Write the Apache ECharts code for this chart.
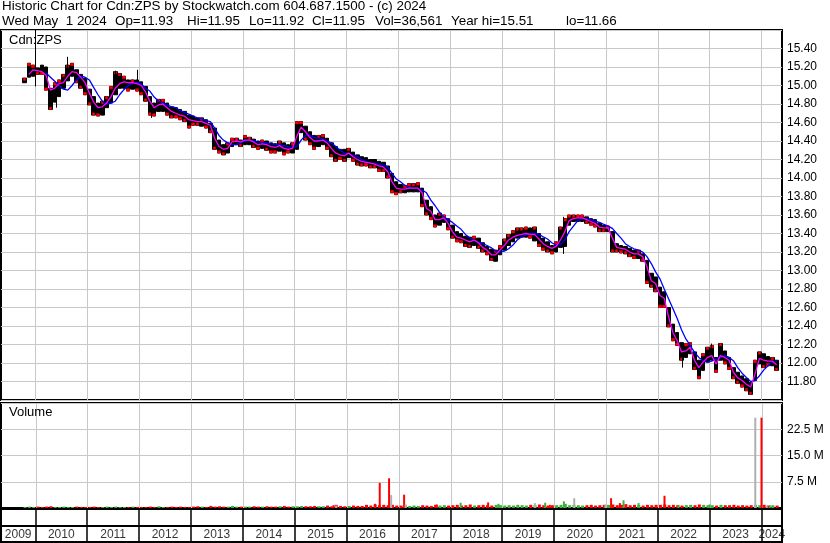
<!DOCTYPE html>
<html><head><meta charset="utf-8">
<script src="https://cdn.jsdelivr.net/npm/echarts@6/dist/echarts.min.js"></script>
<style>html,body{margin:0;padding:0;background:#fff}#c{width:830px;height:543px}</style>
</head><body><div id="c"></div>
<script>
// Monthly samples, first = Oct 2009, last = Apr 2024
const startYear = 2009, startMonth = 10;
const bandHi = [
15.08,15.24,15.22,
15.19,15.22,15.20,14.97,15.03,15.06,15.12,15.22,15.24,15.17,15.12,15.08,
14.96,14.88,14.81,14.83,14.88,14.99,15.15,15.13,15.10,15.06,15.06,15.06,
15.04,14.99,14.88,14.81,14.85,14.85,14.81,14.77,14.76,14.74,14.72,14.68,
14.67,14.65,14.65,14.63,14.59,14.54,14.41,14.36,14.38,14.43,14.43,14.41,
14.46,14.44,14.42,14.40,14.41,14.40,14.38,14.37,14.40,14.38,14.36,14.38,
14.61,14.61,14.56,14.50,14.46,14.46,14.47,14.43,14.38,14.34,14.31,14.31,
14.32,14.28,14.25,14.23,14.22,14.20,14.20,14.18,14.17,14.13,14.05,13.96,
13.93,13.92,13.94,13.94,13.95,13.89,13.76,13.69,13.60,13.62,13.60,13.56,
13.49,13.42,13.40,13.37,13.36,13.37,13.35,13.30,13.26,13.23,13.22,13.27,
13.34,13.39,13.43,13.46,13.46,13.47,13.46,13.47,13.40,13.35,13.31,13.27,
13.31,13.47,13.56,13.60,13.60,13.60,13.60,13.58,13.56,13.55,13.51,13.49,
13.48,13.42,13.29,13.27,13.26,13.24,13.22,13.22,13.18,13.11,12.97,12.93,
12.82,12.77,12.60,12.42,12.33,12.22,12.21,12.22,12.12,12.03,12.10,12.17,
12.19,12.06,12.21,12.13,12.06,11.95,11.90,11.86,11.83,11.79,12.03,12.12,
12.10,12.07,12.06,12.03];
const bandLo = [
15.03,15.09,15.10,
15.12,15.12,14.95,14.74,14.82,14.88,14.97,15.05,15.10,15.03,14.97,14.90,
14.79,14.68,14.67,14.68,14.76,14.81,14.90,14.97,14.97,14.94,14.96,14.94,
14.90,14.83,14.68,14.67,14.72,14.72,14.68,14.65,14.65,14.63,14.61,14.54,
14.57,14.57,14.56,14.54,14.49,14.31,14.27,14.25,14.27,14.34,14.36,14.34,
14.36,14.36,14.33,14.31,14.32,14.30,14.27,14.27,14.29,14.25,14.27,14.27,
14.31,14.49,14.41,14.36,14.31,14.34,14.36,14.31,14.23,14.18,14.20,14.18,
14.22,14.18,14.14,14.13,14.13,14.11,14.11,14.07,14.07,14.00,13.84,13.82,
13.84,13.84,13.85,13.85,13.85,13.69,13.60,13.55,13.47,13.49,13.52,13.44,
13.35,13.31,13.30,13.26,13.25,13.27,13.24,13.20,13.17,13.11,13.10,13.17,
13.22,13.27,13.31,13.35,13.36,13.36,13.35,13.32,13.26,13.22,13.20,13.18,
13.20,13.25,13.26,13.49,13.53,13.53,13.53,13.51,13.49,13.47,13.42,13.42,
13.42,13.20,13.20,13.19,13.18,13.15,13.13,13.13,13.10,12.86,12.82,12.77,
12.60,12.60,12.39,12.24,12.19,12.03,12.06,12.10,11.93,11.83,11.92,12.01,
12.03,11.90,12.03,11.99,11.93,11.83,11.78,11.74,11.70,11.66,11.81,11.99,
11.95,11.97,11.97,11.92];
// magenta moving average
const maShort = [
null,15.12,15.17,
15.16,15.15,15.11,14.95,14.97,15.02,15.03,15.10,15.15,15.14,15.09,15.03,
14.92,14.82,14.76,14.77,14.81,14.88,14.97,15.02,15.04,15.03,15.03,15.02,
15.00,14.93,14.83,14.76,14.79,14.80,14.76,14.72,14.70,14.68,14.67,14.63,
14.62,14.61,14.61,14.59,14.57,14.43,14.34,14.31,14.32,14.39,14.40,14.39,
14.41,14.41,14.39,14.36,14.37,14.36,14.34,14.33,14.35,14.32,14.31,14.32,
14.45,14.55,14.50,14.44,14.40,14.40,14.41,14.38,14.32,14.27,14.25,14.24,
14.27,14.23,14.20,14.18,14.17,14.16,14.15,14.13,14.12,14.07,13.96,13.89,
13.88,13.88,13.89,13.89,13.89,13.84,13.67,13.64,13.55,13.55,13.57,13.51,
13.42,13.36,13.35,13.33,13.31,13.33,13.30,13.25,13.22,13.17,13.17,13.22,
13.27,13.33,13.36,13.38,13.39,13.40,13.39,13.39,13.34,13.29,13.26,13.24,
13.26,13.33,13.42,13.54,13.56,13.57,13.57,13.55,13.53,13.51,13.47,13.46,
13.46,13.35,13.25,13.24,13.23,13.20,13.18,13.18,13.15,13.04,12.89,12.86,
12.73,12.70,12.50,12.33,12.24,12.12,12.13,12.17,12.03,11.95,12.01,12.06,
12.08,11.99,12.08,12.06,12.03,11.90,11.84,11.81,11.77,11.74,11.88,12.05,
12.03,12.02,12.02,11.98];
// blue moving average
const maLong = [
null,null,null,
null,null,15.135,15.09,15.045,15.00,14.96,14.95,15.00,15.06,15.10,15.09,
15.06,14.98,14.90,14.83,14.80,14.81,14.83,14.90,14.955,15.00,15.02,15.03,
15.02,14.97,14.94,14.875,14.83,14.81,14.79,14.77,14.76,14.73,14.71,14.69,
14.67,14.65,14.64,14.62,14.61,14.54,14.46,14.41,14.38,14.36,14.36,14.38,
14.40,14.41,14.40,14.39,14.385,14.38,14.37,14.365,14.36,14.35,14.34,14.33,
14.34,14.41,14.46,14.46,14.44,14.43,14.42,14.40,14.38,14.34,14.30,14.27,
14.26,14.245,14.23,14.20,14.18,14.16,14.155,14.15,14.145,14.12,14.05,13.99,
13.96,13.92,13.90,13.89,13.885,13.87,13.84,13.76,13.70,13.63,13.58,13.55,
13.52,13.48,13.445,13.39,13.354,13.325,13.307,13.29,13.27,13.245,13.21,13.198,
13.21,13.235,13.275,13.33,13.365,13.383,13.40,13.40,13.39,13.365,13.34,13.30,
13.275,13.28,13.33,13.42,13.48,13.54,13.56,13.56,13.55,13.535,13.52,13.50,
13.48,13.455,13.40,13.35,13.29,13.26,13.235,13.22,13.20,13.15,13.075,12.985,
12.91,12.80,12.695,12.59,12.48,12.36,12.26,12.19,12.115,12.06,12.025,12.01,
12.02,12.043,12.06,12.08,12.06,12.025,11.95,11.89,11.844,11.80,11.81,11.86,
11.923,11.97,12.01,12.015];
// single-day high/low spikes: [decimal year, low, high]
const wicks = [
[2010.01,14.99,15.60],[2010.42,14.76,14.95],[2010.62,15.15,15.31],[2011.55,15.00,15.16],
[2011.97,15.00,15.17],[2012.25,14.65,14.75],[2020.19,13.18,13.58],[2021.18,13.20,13.42],
[2022.49,11.95,12.15],[2023.04,12.05,12.21]];
// monthly baseline volume (millions)
const volBase = [
0.3,0.4,0.3,
0.4,0.3,0.4,0.5,0.3,0.3,0.4,0.3,0.3,0.4,0.3,0.3,
0.3,0.4,0.3,0.3,0.4,0.3,0.4,0.3,0.3,0.3,0.4,0.3,
0.3,0.3,0.4,0.3,0.5,0.3,0.3,0.4,0.3,0.4,0.3,0.3,
0.4,0.5,0.4,0.3,0.6,0.4,0.5,0.4,0.4,0.6,0.4,0.4,
0.4,0.4,0.5,0.4,0.4,0.5,0.4,0.4,0.5,0.6,0.4,0.5,
0.5,0.6,0.5,0.5,0.6,0.5,0.5,0.7,0.5,0.9,0.6,0.5,
0.6,0.7,0.6,0.6,0.9,0.7,1.0,0.8,0.9,0.8,0.9,0.7,
0.7,0.8,0.6,0.7,0.6,0.8,0.7,0.6,0.9,0.7,0.8,0.7,
0.8,0.9,0.7,0.8,1.0,0.7,0.8,0.9,0.8,0.7,0.9,0.8,
0.7,0.8,0.7,0.9,0.8,0.7,0.9,0.8,1.0,0.8,0.7,0.8,
0.8,0.9,1.2,0.8,0.9,0.8,0.7,0.8,0.9,0.7,0.8,0.9,
0.9,1.0,0.8,0.9,1.1,0.8,0.9,0.8,0.7,0.9,0.8,0.9,
0.9,1.0,0.8,0.9,0.8,0.7,0.8,0.9,0.8,1.0,0.9,0.8,
0.8,0.7,0.9,0.8,0.8,0.9,0.7,0.8,0.7,0.8,0.9,0.8,
0.9,0.7,0.8,0.7];
// single-day volume spikes: [decimal year, millions, r=down g=up n=unchanged]
const volSpikes = [
[2015.75,0.8,'r'],[2015.80,0.7,'n'],[2016.55,1.2,'r'],[2016.64,7.2,'r'],[2016.82,8.5,'r'],
[2016.86,3.7,'n'],[2017.11,3.8,'r'],[2017.14,1.0,'n'],[2017.74,1.0,'r'],[2018.20,1.5,'g'],
[2018.73,1.6,'r'],[2018.93,1.2,'g'],[2019.63,1.4,'n'],[2019.83,1.5,'g'],[2019.92,0.9,'r'],
[2020.19,1.9,'g'],[2020.39,2.8,'n'],[2020.99,1.0,'n'],[2021.10,2.8,'r'],[2021.27,1.4,'r'],
[2021.34,2.2,'g'],[2021.63,1.4,'g'],[2022.13,3.5,'r'],[2022.40,0.9,'g'],[2023.00,1.0,'g'],
[2023.88,25.8,'n'],[2024.00,25.8,'r'],[2024.10,0.7,'n'],[2024.16,0.8,'g']];
const yearLines = [2010,2011,2012,2013,2014,2015,2016,2017,2018,2019,2020,2021,2022,2023,2024];
const yearLabels = ['2009','2010','2011','2012','2013','2014','2015','2016','2017','2018','2019','2020','2021','2022','2023','2024'];
const priceTicks = {min:11.6, max:15.6, step:0.2};
const volTicks = {min:0, max:30, step:7.5};
const header1 = 'Historic Chart for Cdn:ZPS by Stockwatch.com 604.687.1500 - (c) 2024';
const header2Fields = ['Wed May  1 2024', 'Op=11.93', 'Hi=11.95', 'Lo=11.92', 'Cl=11.95', 'Vol=36,561', 'Year hi=15.51', 'lo=11.66'];
const header2Left = [2, 115, 187, 249, 312, 375, 451, 566];

const xMin = 2009.3387, xMax = 2024.3952;
const FONT = '"Liberation Sans", Arial, sans-serif';
const RED = '#ff0000', GREEN = '#3fae3f', GRAY = '#b0b0b0';
const CAP = 0.025; // height of the red end-of-range tick, in price units

const tx = bandHi.map((_, i) => { const m = startMonth - 1 + i; return startYear + Math.floor(m / 12) + ((m % 12) + 0.5) / 12; });
const up = maShort.map((v, i) => (i === 0 || v == null || maShort[i - 1] == null) ? true : v >= maShort[i - 1]);
const candles = tx.map((x, i) => [x, bandLo[i], bandHi[i], bandLo[i], bandHi[i]]);
const caps = tx.map((x, i) => up[i]
  ? [x, bandHi[i] - CAP, bandHi[i], bandHi[i] - CAP, bandHi[i]]
  : [x, bandLo[i], bandLo[i] + CAP, bandLo[i], bandLo[i] + CAP]);
const wickData = wicks.map(w => [w[0], w[1], w[2], w[1], w[2]]);
const shortLine = tx.map((x, i) => [x, maShort[i]]).filter(p => p[1] != null);
const longLine = tx.map((x, i) => [x, maLong[i]]).filter(p => p[1] != null);
const volData = tx.map((x, i) => ({ value: [x, volBase[i]], itemStyle: { color: up[i] ? GREEN : RED } }));
const spikeData = volSpikes.map(s => ({ value: [s[0], s[1]], itemStyle: { color: s[2] === 'r' ? RED : (s[2] === 'g' ? GREEN : GRAY) } }));
const labelData = yearLabels.map(y => {
  const a = Math.max(+y, xMin), b = Math.min(+y + 1, xMax);
  return { name: y, value: [(a + b) / 2, 0.5] };
});
const grayLines = { silent: true, symbol: 'none', z: 1, animation: false, label: { show: false },
  lineStyle: { color: '#c8c8c8', width: 1, type: 'solid' }, emphasis: { disabled: true },
  data: yearLines.map(y => ({ xAxis: y })) };

const chart = echarts.init(document.getElementById('c'), null, { renderer: 'canvas', width: 830, height: 543 });
const xBase = { type: 'value', min: xMin, max: xMax, show: false };
const txt = (text, left, top, size) => ({ text, left, top, padding: 0,
  textStyle: { fontSize: size, fontWeight: 'normal', color: '#000', fontFamily: FONT } });
const titles = [txt(header1, 2, 0, 13.4)]
  .concat(header2Fields.map((f, i) => txt(f, header2Left[i], 15, 13.4)))
  .concat([txt('Cdn:ZPS', 9, 34, 13), txt('Volume', 9, 406, 13)]);
chart.setOption({
  animation: false,
  backgroundColor: '#fff',
  title: titles,
  grid: [
    { left: 1, right: 48, top: 30, height: 370, show: true, borderColor: '#000', borderWidth: 2 },
    { left: 1, right: 48, top: 403, height: 105, show: true, borderColor: '#000', borderWidth: 2 },
    { left: 1, right: 48, top: 509, height: 33, show: true, borderColor: '#000', borderWidth: 2 }
  ],
  xAxis: [Object.assign({ gridIndex: 0 }, xBase), Object.assign({ gridIndex: 1 }, xBase), Object.assign({ gridIndex: 2 }, xBase)],
  yAxis: [
    { type: 'value', gridIndex: 0, position: 'right', min: priceTicks.min, max: priceTicks.max, interval: priceTicks.step,
      axisLine: { show: false }, axisTick: { show: false },
      axisLabel: { showMinLabel: false, showMaxLabel: false, formatter: v => v.toFixed(2), color: '#000', fontSize: 12, fontFamily: FONT, margin: 5 },
      splitLine: { lineStyle: { color: '#c8c8c8', width: 1 } } },
    { type: 'value', gridIndex: 1, position: 'right', min: volTicks.min, max: volTicks.max, interval: volTicks.step,
      axisLine: { show: false }, axisTick: { show: false },
      axisLabel: { showMinLabel: false, showMaxLabel: false, formatter: v => v.toFixed(1) + ' M', color: '#000', fontSize: 12, fontFamily: FONT, margin: 5 },
      splitLine: { lineStyle: { color: '#c8c8c8', width: 1 } } },
    { type: 'value', gridIndex: 2, min: 0, max: 2, interval: 1,
      axisLine: { show: false }, axisTick: { show: false }, axisLabel: { show: false },
      splitLine: { lineStyle: { color: '#000', width: 2 } } }
  ],
  series: [
    { type: 'candlestick', xAxisIndex: 0, yAxisIndex: 0, data: candles, barWidth: 4, silent: true,
      itemStyle: { color: '#000', color0: '#000', borderColor: '#000', borderColor0: '#000', borderWidth: 1 },
      markLine: grayLines },
    { type: 'candlestick', xAxisIndex: 0, yAxisIndex: 0, data: caps, barWidth: 3, silent: true,
      itemStyle: { color: RED, color0: RED, borderColor: RED, borderColor0: RED, borderWidth: 0.5 } },
    { type: 'candlestick', xAxisIndex: 0, yAxisIndex: 0, data: wickData, barWidth: 1, silent: true,
      itemStyle: { color: '#000', color0: '#000', borderColor: '#000', borderColor0: '#000', borderWidth: 1 } },
    { type: 'line', xAxisIndex: 0, yAxisIndex: 0, data: longLine, symbol: 'none', silent: true,
      lineStyle: { color: '#0000ff', width: 1.3 } },
    { type: 'line', xAxisIndex: 0, yAxisIndex: 0, data: shortLine, symbol: 'none', silent: true,
      lineStyle: { color: '#ff00ff', width: 1.3 } },
    { type: 'bar', xAxisIndex: 1, yAxisIndex: 1, data: volData, barWidth: 3, barGap: '-100%', silent: true,
      markLine: grayLines },
    { type: 'bar', xAxisIndex: 1, yAxisIndex: 1, data: spikeData, barWidth: 2, barGap: '-100%', silent: true },
    { type: 'scatter', xAxisIndex: 2, yAxisIndex: 2, data: labelData, symbolSize: 1, silent: true,
      itemStyle: { color: 'rgba(0,0,0,0)' },
      label: { show: true, position: 'inside', formatter: '{b}', color: '#000', fontSize: 12, fontFamily: FONT, offset: [0, 1] },
      markLine: { silent: true, symbol: 'none', animation: false, label: { show: false },
        lineStyle: { color: '#000', width: 1.5, type: 'solid' }, emphasis: { disabled: true },
        data: yearLines.map(y => ({ xAxis: y })) } }
  ]
});
</script>
</body></html>
